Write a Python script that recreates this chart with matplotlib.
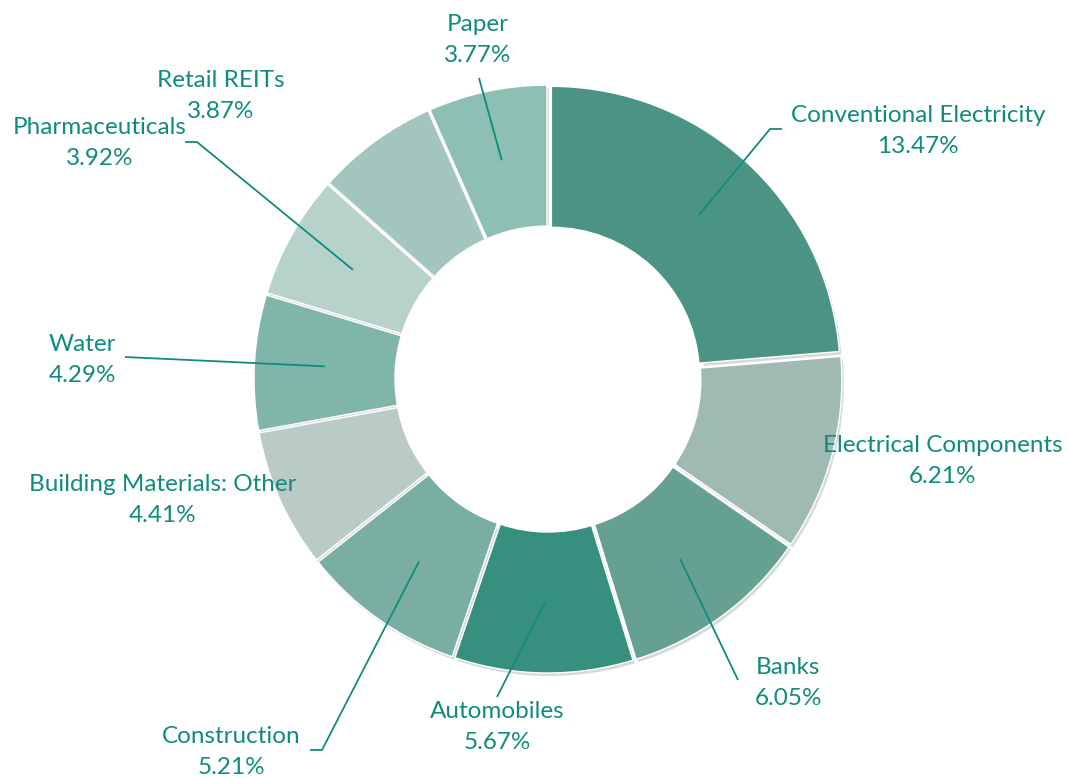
import numpy as np
import matplotlib.pyplot as plt

sectors = ["Conventional Electricity", "Electrical Components", "Banks", "Automobiles",
           "Construction", "Building Materials: Other", "Water", "Pharmaceuticals",
           "Retail REITs", "Paper"]
weights = [13.47, 6.21, 6.05, 5.67, 5.21, 4.41, 4.29, 3.92, 3.87, 3.77]
colors = ["#4a9385", "#9fbab3", "#66a093", "#378f7f", "#7aaea3",
          "#bacac6", "#80b6aa", "#b7d2cb", "#a2c6bd", "#8ebfb4"]

txt_color = "#0f8c7e"
W, H = 1068, 778
cx, cy = 548, H - 379
R, r_in = 289, 148

# label placement (image px) and leader elbows, None = no leader
label_xy = [(918, 131), (943, 461), (788, 683), (497, 727), (231, 752),
            (163, 500), (82, 360), (100, 143), (221, 96), (478, 40)]
leaders = [[(782, 129), (770, 129)], None, [(738, 680)], [(497, 697)],
           [(310, 750), (322, 750)], None, [(125, 357)],
           [(185, 142), (197, 142)], None, [(479, 78)]]

plt.rcParams['font.family'] = ['Lato', 'DejaVu Sans']
fig = plt.figure(figsize=(W / 100, H / 100), dpi=100)
ax = fig.add_axes([0, 0, 1, 1])

# soft shadow ring
ax.pie(weights, radius=R, center=(cx + 2, cy - 3), startangle=90, counterclock=False,
       explode=[5] * len(weights), colors=["#d5dad8"] * len(weights),
       wedgeprops=dict(width=R - r_in - 3, edgecolor='none'), frame=True)
wedges, _ = ax.pie(weights, radius=R, center=(cx, cy), startangle=90, counterclock=False,
                   explode=[5] * len(weights), colors=colors,
                   wedgeprops=dict(width=R - r_in, edgecolor='#ffffff', linewidth=1.0),
                   frame=True)
ax.set_xlim(0, W)
ax.set_ylim(0, H)
ax.set_aspect('equal')
ax.axis('off')

r_mid = (R + r_in) / 2
for w, name, val, (lx, ly), lead in zip(wedges, sectors, weights, label_xy, leaders):
    tm = np.deg2rad((w.theta1 + w.theta2) / 2)
    ax.text(lx, H - ly, f"{name}\n{val:.2f}%", ha='center', va='center',
            fontsize=17.5, color=txt_color, linespacing=1.55)
    if lead is not None:
        ax_x = w.center[0] + r_mid * np.cos(tm)
        ax_y = w.center[1] + r_mid * np.sin(tm)
        xs = [p[0] for p in lead] + [ax_x]
        ys = [H - p[1] for p in lead] + [ax_y]
        ax.plot(xs, ys, color=txt_color, lw=1.3, solid_capstyle='butt')

fig.savefig("out.png", dpi=100)
